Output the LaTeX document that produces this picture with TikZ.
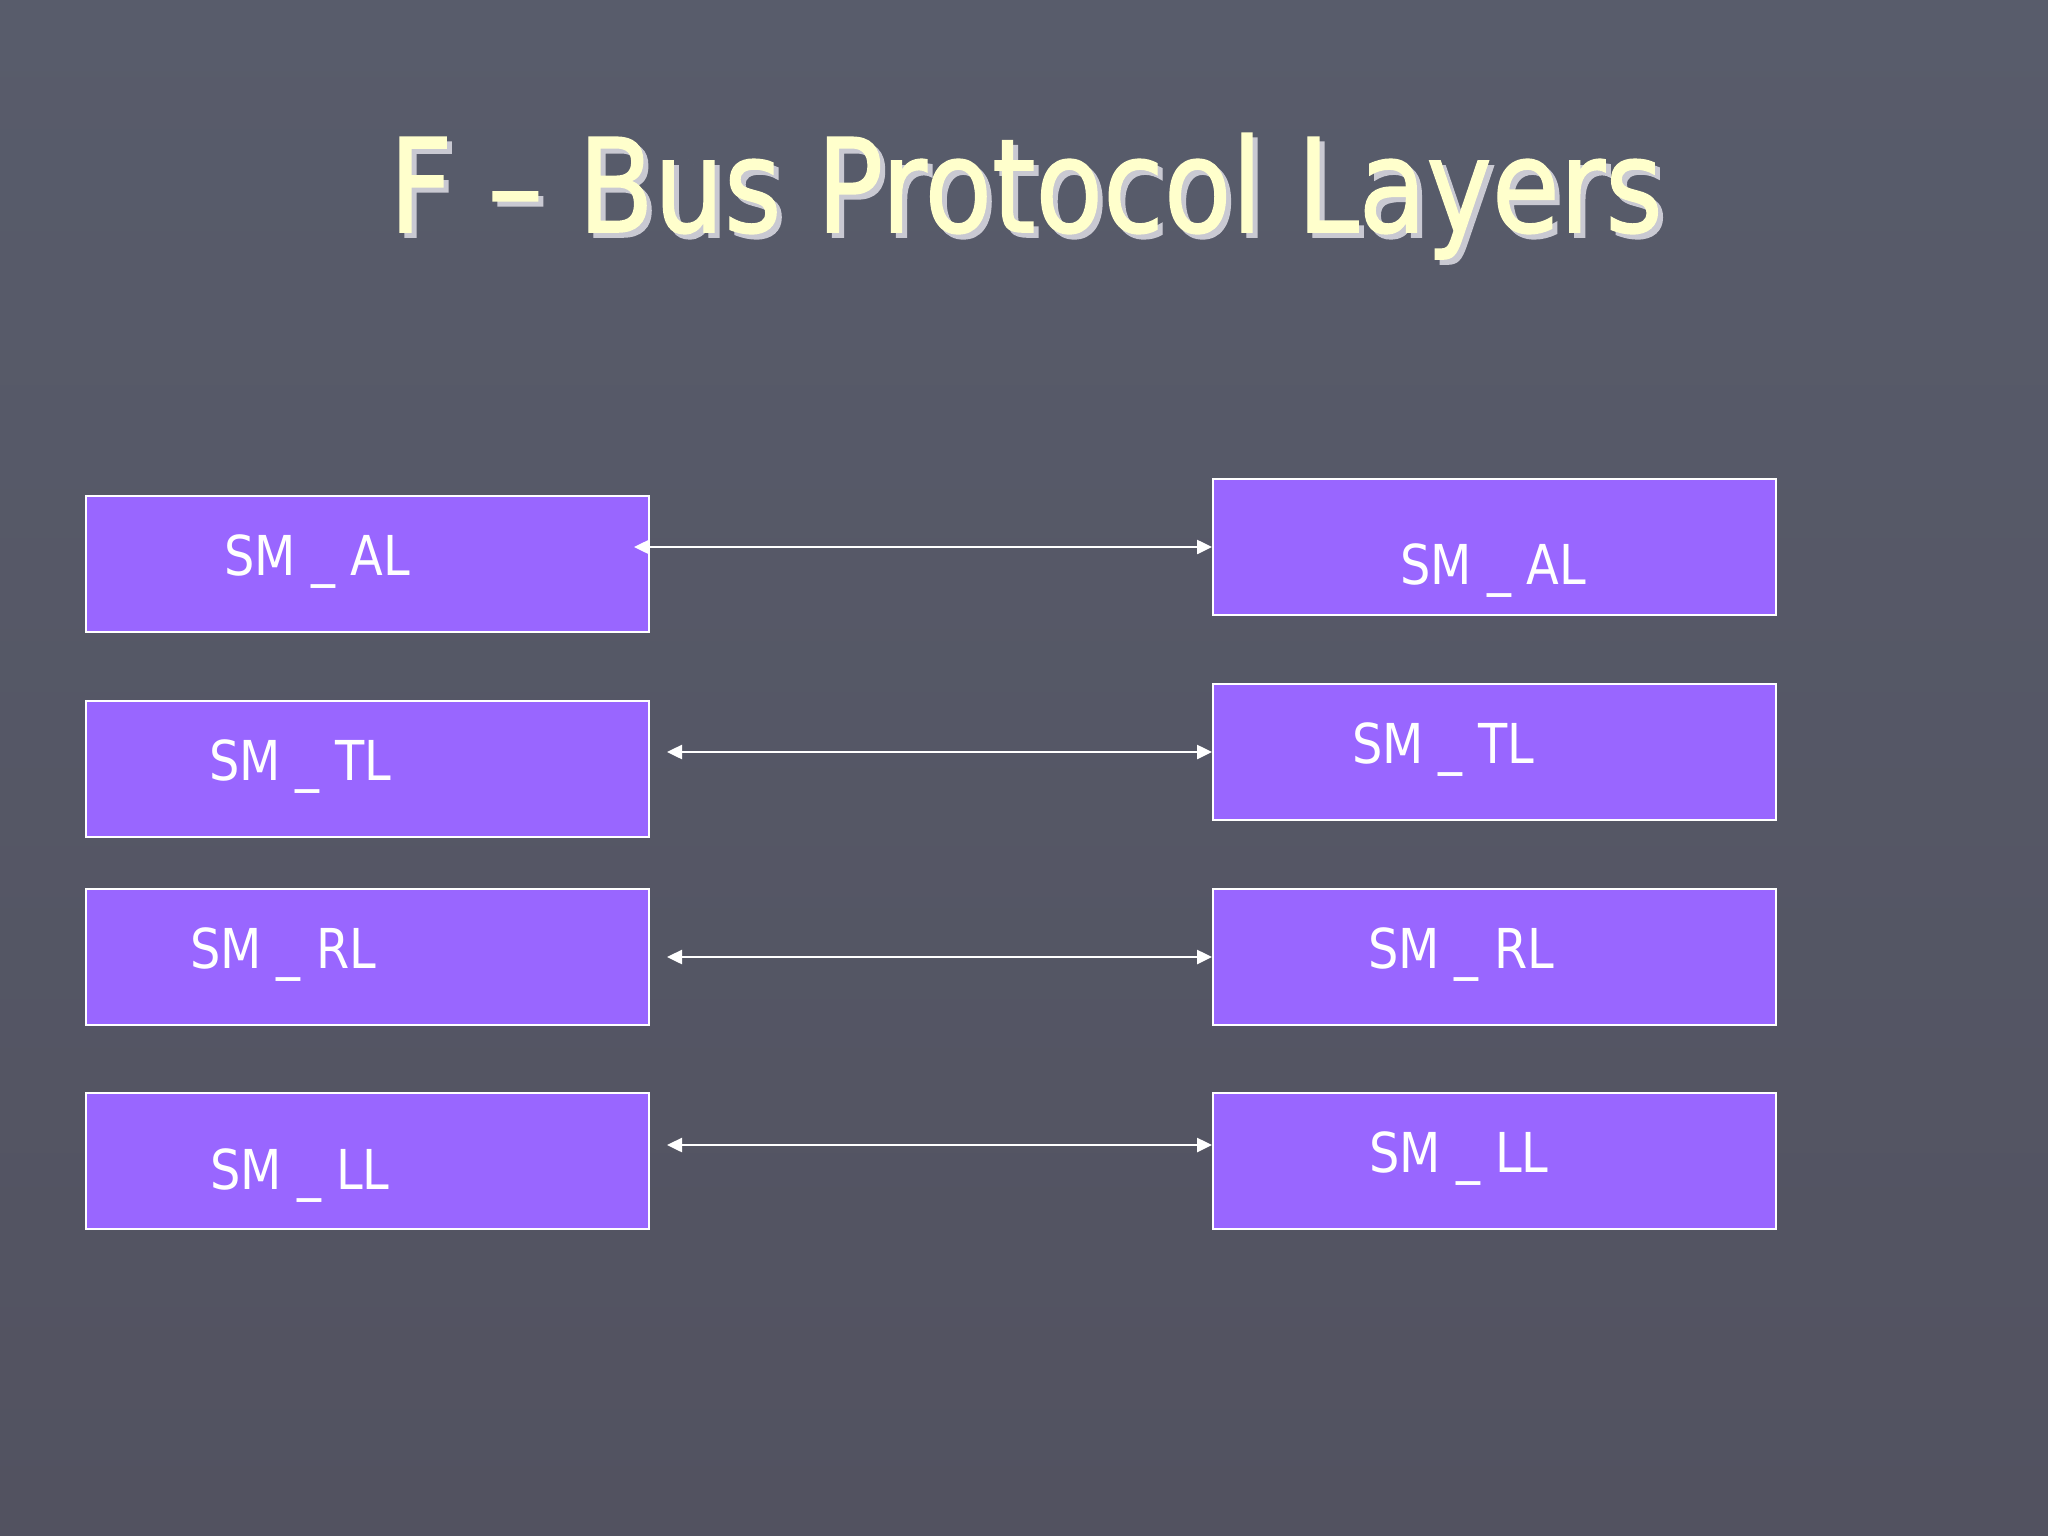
\documentclass[tikz,border=0pt]{standalone}
\usepackage{fontspec}
\setmainfont{DejaVu Sans}
\newfontfamily\titlefont[FakeBold=1.2]{DejaVu Sans}
\usetikzlibrary{arrows.meta}
\definecolor{bgtop}{HTML}{585C6B}
\definecolor{bgbot}{HTML}{525260}
\definecolor{boxfill}{HTML}{9966FF}
\definecolor{titlecol}{HTML}{FFFFCC}
\definecolor{shadowcol}{HTML}{C9C9D2}
\tikzset{
  layerbox/.style={draw=white, line width=2pt, fill=boxfill, minimum width=563pt, minimum height=136pt, inner sep=0pt, anchor=north west},
  layertext/.style={text=white, font=\fontsize{55}{60}\selectfont, anchor=base, inner sep=0pt},
  link/.style={draw=white, line width=2.5pt, {Triangle[length=15pt,width=14pt]}-{Triangle[length=15pt,width=14pt]}}
}
\newcommand{\lbl}[1]{\scalebox{0.87}[1]{#1}}
\begin{document}
\begin{tikzpicture}[x=1pt,y=-1pt]
\shade[top color=bgtop, bottom color=bgbot] (0,0) rectangle (2048,1536);
\useasboundingbox (0,0) rectangle (2048,1536);
% title
\node[text=shadowcol, font=\titlefont\fontsize{130}{140}\selectfont, anchor=base, inner sep=0pt] (tshadow) at (1031,237) {\scalebox{0.85}[1]{F – Bus Protocol Layers}};
\node[text=titlecol, font=\titlefont\fontsize{130}{140}\selectfont, anchor=base, inner sep=0pt] (title) at (1026,232) {\scalebox{0.85}[1]{F – Bus Protocol Layers}};
% left boxes
\node[layerbox] (lAL) at (85,495) {};
\node[layerbox] (lTL) at (85,700) {};
\node[layerbox] (lRL) at (85,888) {};
\node[layerbox] (lLL) at (85,1092) {};
% right boxes
\node[layerbox] (rAL) at (1212,478) {};
\node[layerbox] (rTL) at (1212,683) {};
\node[layerbox] (rRL) at (1212,888) {};
\node[layerbox] (rLL) at (1212,1092) {};
% labels
\node[layertext] (tlAL) at (317,575) {\lbl{SM \_ AL}};
\node[layertext] (trAL) at (1493,584) {\lbl{SM \_ AL}};
\node[layertext] (tlTL) at (300,780) {\lbl{SM \_ TL}};
\node[layertext] (trTL) at (1443,763) {\lbl{SM \_ TL}};
\node[layertext] (tlRL) at (283,968) {\lbl{SM \_ RL}};
\node[layertext] (trRL) at (1461,968) {\lbl{SM \_ RL}};
\node[layertext] (tlLL) at (300,1189) {\lbl{SM \_ LL}};
\node[layertext] (trLL) at (1459,1172) {\lbl{SM \_ LL}};
% connectors
\draw[link] ([xshift=-16pt]rAL.west -| lAL.east) -- (rAL.west);
\draw[link] ([xshift=17pt]rTL.west -| lTL.east) -- (rTL.west);
\draw[link] ([xshift=17pt]lRL.east) -- (rRL.west);
\draw[link] ([xshift=17pt,yshift=16pt]lLL.east) -- ([yshift=16pt]rLL.west);
\end{tikzpicture}
\end{document}
